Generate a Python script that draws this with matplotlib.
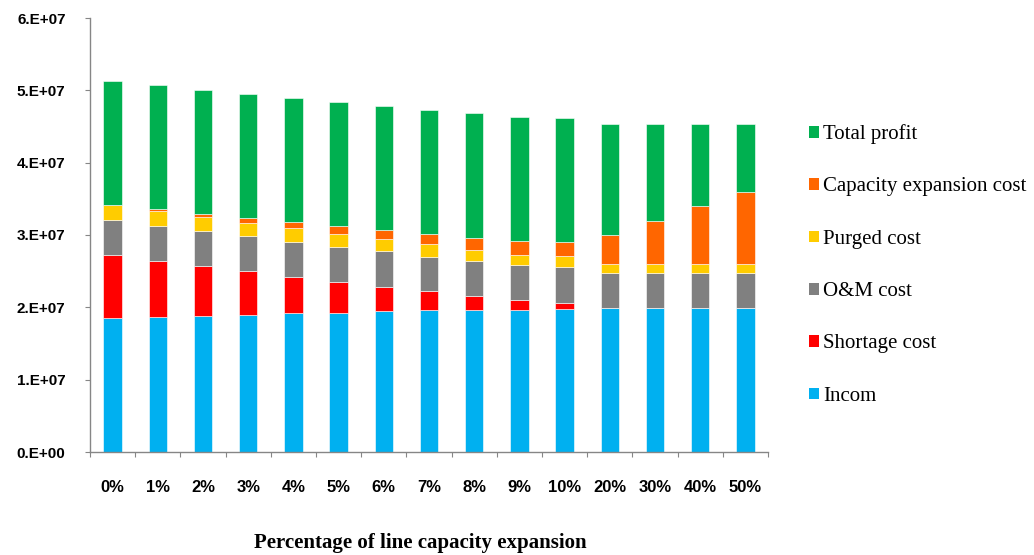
import matplotlib
matplotlib.use("Agg")
import matplotlib.pyplot as plt
import matplotlib.patches as patches
from matplotlib.ticker import FuncFormatter, FixedLocator
import numpy as np

# line capacity expansion scenarios
categories = ["0%", "1%", "2%", "3%", "4%", "5%", "6%", "7%",
              "8%", "9%", "10%", "20%", "30%", "40%", "50%"]

# stacked components (in 1e7 units), bottom to top
incom = [1.85, 1.87, 1.885, 1.90, 1.915, 1.925, 1.945, 1.96,
         1.965, 1.97, 1.975, 1.99, 1.99, 1.99, 1.99]
shortage = [0.88, 0.77, 0.69, 0.60, 0.50, 0.43, 0.34, 0.26,
            0.19, 0.13, 0.09, 0.0, 0.0, 0.0, 0.0]
om_cost = [0.48, 0.49, 0.48, 0.48, 0.49, 0.48, 0.49, 0.48,
           0.48, 0.48, 0.49, 0.485, 0.485, 0.485, 0.485]
purged = [0.21, 0.20, 0.20, 0.19, 0.19, 0.18, 0.175, 0.17,
          0.16, 0.15, 0.15, 0.125, 0.125, 0.125, 0.125]
capacity = [0.0, 0.03, 0.04, 0.07, 0.08, 0.11, 0.12, 0.14,
            0.17, 0.19, 0.20, 0.40, 0.60, 0.80, 1.00]
profit = [1.705, 1.71, 1.71, 1.71, 1.72, 1.71, 1.72, 1.72,
          1.72, 1.71, 1.71, 1.53, 1.34, 1.14, 0.94]

series = [
    ("Incom", incom, "#00B0F0"),
    ("Shortage cost", shortage, "#FF0000"),
    ("O&M cost", om_cost, "#808080"),
    ("Purged cost", purged, "#FFCC00"),
    ("Capacity expansion cost", capacity, "#FF6600"),
    ("Total profit", profit, "#00B050"),
]

axis_gray = "#868686"

fig = plt.figure(figsize=(10.34, 5.55), dpi=100)
ax = fig.add_axes([90 / 1034, 103 / 555, 678 / 1034, 434 / 555])

x = np.arange(len(categories))
bottom = np.zeros(len(categories))
handles = []
for name, vals, color in series:
    vals = np.array(vals) * 1e7
    ax.bar(x, vals, width=0.41, bottom=bottom, color=color,
           edgecolor="white", linewidth=0.4)
    bottom += vals
    handles.append(patches.Patch(facecolor=color, label=name))

ax.set_xlim(-0.5, len(categories) - 0.5)
ax.set_ylim(0, 6e7)

# y axis: Excel-style scientific labels
ax.yaxis.set_major_locator(FixedLocator(np.arange(0, 7e7, 1e7)))


def sci_label(v, pos):
    if v == 0:
        return "0.E+00"
    exp = int(np.floor(np.log10(v)))
    return f"{int(round(v / 10 ** exp))}.E+{exp:02d}"


ax.yaxis.set_major_formatter(FuncFormatter(sci_label))
ax.tick_params(axis="y", direction="out", length=3.6, width=0.8,
               color=axis_gray, pad=14, labelsize=11)
for lab in ax.get_yticklabels():
    lab.set_fontweight("bold")
    lab.set_fontfamily("Liberation Sans")

# x axis: labels at bar centres, tick marks between bars
ax.set_xticks(x)
ax.set_xticklabels(categories, fontsize=12, fontweight="bold",
                   fontfamily="Liberation Sans")
ax.set_xticks(np.arange(-0.5, len(categories)), minor=True)
ax.tick_params(axis="x", which="major", length=0, pad=20)
ax.tick_params(axis="x", which="minor", direction="out", length=3.6,
               width=0.8, color=axis_gray)

for side in ("top", "right"):
    ax.spines[side].set_visible(False)
for side in ("left", "bottom"):
    ax.spines[side].set_color(axis_gray)
    ax.spines[side].set_linewidth(1.0)

fig.text(420 / 1034, (555 - 548) / 555, "Percentage of line capacity expansion",
         ha="center", va="baseline", fontsize=15, fontweight="bold",
         fontfamily="Liberation Serif")

fig.legend(handles=handles[::-1], loc="center left",
           bbox_to_anchor=(809 / 1034, (555 - 265) / 555),
           frameon=False, borderpad=0, borderaxespad=0,
           prop={"family": "Liberation Serif", "size": 15},
           handlelength=0.48, handleheight=0.48, handletextpad=0.2,
           labelspacing=1.6)

fig.savefig("out.png", dpi=100)
